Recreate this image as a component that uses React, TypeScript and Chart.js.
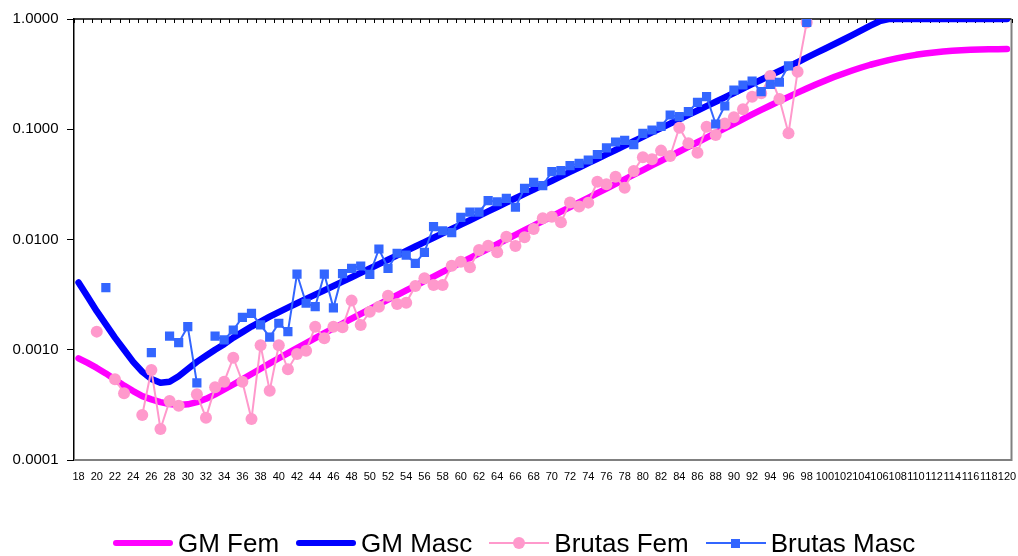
import React, { useEffect, useRef } from 'react';
import { Chart, registerables } from 'chart.js';

Chart.register(...registerables);

const FONT = '"Liberation Sans", Arial, Helvetica, sans-serif';

const ages = [
  18, 19, 20, 21, 22, 23, 24, 25, 26, 27, 28, 29, 30, 31, 32, 33, 34, 35, 36, 37,
  38, 39, 40, 41, 42, 43, 44, 45, 46, 47, 48, 49, 50, 51, 52, 53, 54, 55, 56, 57,
  58, 59, 60, 61, 62, 63, 64, 65, 66, 67, 68, 69, 70, 71, 72, 73, 74, 75, 76, 77,
  78, 79, 80, 81, 82, 83, 84, 85, 86, 87, 88, 89, 90, 91, 92, 93, 94, 95, 96, 97,
  98, 99, 100, 101, 102, 103, 104, 105, 106, 107, 108, 109, 110, 111, 112, 113,
  114, 115, 116, 117, 118, 119, 120,
];

const gmFem = [
  0.000836, 0.000759, 0.000684, 0.00061, 0.000537, 0.000473, 0.000422, 0.00038, 0.000355, 0.000335,
  0.000322, 0.000316, 0.00032, 0.000335, 0.000359, 0.000394, 0.000437, 0.000484, 0.00054, 0.000603,
  0.000673, 0.000752, 0.000838, 0.000931, 0.001035, 0.001148, 0.001274, 0.001413, 0.001563, 0.00173,
  0.001914, 0.002113, 0.002333, 0.002576, 0.002844, 0.003133, 0.003451, 0.003802, 0.004188, 0.004613,
  0.005082, 0.005598, 0.006166, 0.006792, 0.007482, 0.008241, 0.009078, 0.01, 0.011015, 0.012134,
  0.013366, 0.014723, 0.016218, 0.017865, 0.019679, 0.021677, 0.023878, 0.026303, 0.028973, 0.031915,
  0.035156, 0.038726, 0.042658, 0.046989, 0.051761, 0.057016, 0.062806, 0.069183, 0.076208, 0.083946,
  0.09247, 0.10186, 0.1122, 0.12359, 0.13614, 0.14962, 0.16406, 0.17989, 0.19679, 0.21478,
  0.23388, 0.2541, 0.27542, 0.29717, 0.31915, 0.34119, 0.36308, 0.38459, 0.40458, 0.42364,
  0.44157, 0.45814, 0.47315, 0.48641, 0.49774, 0.50699, 0.51404, 0.52, 0.52481, 0.52845,
  0.53088, 0.5321, 0.5333,
];

const gmMasc = [
  0.004074, 0.00302, 0.002239, 0.001698, 0.001288, 0.001, 0.000776, 0.000631, 0.000543, 0.000501,
  0.000513, 0.000575, 0.000668, 0.000776, 0.000881, 0.001, 0.001122, 0.001288, 0.001445, 0.001622,
  0.001799, 0.001995, 0.002198, 0.00241, 0.002642, 0.002891, 0.003162, 0.003459, 0.003784, 0.004147,
  0.004545, 0.004981, 0.005459, 0.005984, 0.006558, 0.007188, 0.007878, 0.008634, 0.009462, 0.01037,
  0.01137, 0.01246, 0.013654, 0.014962, 0.016399, 0.017971, 0.019697, 0.021589, 0.023659, 0.025929,
  0.028417, 0.031145, 0.034135, 0.037411, 0.041003, 0.044939, 0.049249, 0.053976, 0.059156, 0.064835,
  0.071055, 0.07788, 0.085351, 0.093541, 0.10252, 0.11236, 0.12313, 0.13497, 0.14791, 0.16211,
  0.17766, 0.19472, 0.21339, 0.23388, 0.25633, 0.28091, 0.30788, 0.33729, 0.36983, 0.40551,
  0.44566, 0.48978, 0.53703, 0.5902, 0.64863, 0.7145, 0.78886, 0.87096, 0.95499, 1,
  1, 1, 1, 1, 1, 1, 1, 1, 1, 1,
  1, 1, 1,
];

const brutasFem = [
  null, null, 0.00146, null, 0.00054, 0.000403, null, 0.000256, 0.000655, 0.000191,
  0.000343, 0.000311, null, 0.000394, 0.000242, 0.000456, 0.000513, 0.000847, 0.000513, 0.000235,
  0.0011, 0.000425, 0.0011, 0.000665, 0.000915, 0.00098, 0.00162, 0.00127, 0.00162, 0.0016,
  0.00279, 0.00168, 0.00221, 0.00246, 0.00309, 0.0026, 0.00267, 0.00379, 0.00445, 0.00387,
  0.00387, 0.00578, 0.00629, 0.0056, 0.00803, 0.00879, 0.00765, 0.0106, 0.00873, 0.0105,
  0.01245, 0.01556, 0.0161, 0.0143, 0.0217, 0.0199, 0.0216, 0.0334, 0.0317, 0.0371,
  0.0295, 0.0418, 0.0557, 0.0534, 0.064, 0.0572, 0.1033, 0.0746, 0.0613, 0.1055,
  0.0887, 0.113, 0.1283, 0.152, 0.1973, 0.212, 0.304, 0.188, 0.0919, 0.333,
  0.93,
];

const brutasMasc = [
  null, null, null, 0.00366, null, null, null, null, 0.00094, null,
  0.00133, 0.00116, 0.00162, 0.0005, null, 0.00133, 0.00123, 0.00151, 0.00197, 0.00214,
  0.00168, 0.0013, 0.00174, 0.00146, 0.00486, 0.00264, 0.00246, 0.00486, 0.0024, 0.0049,
  0.00548, 0.00575, 0.00483, 0.0082, 0.00548, 0.0075, 0.00723, 0.00608, 0.00765, 0.01306,
  0.012, 0.01153, 0.0159, 0.0177, 0.0177, 0.0225, 0.022, 0.0236, 0.0196, 0.0291,
  0.033, 0.0308, 0.0412, 0.0421, 0.0467, 0.0491, 0.0526, 0.059, 0.0679, 0.0766,
  0.0793, 0.0725, 0.0919, 0.0984, 0.106, 0.1346, 0.13, 0.1443, 0.1755, 0.1973,
  0.1116, 0.1625, 0.226, 0.252, 0.274, 0.219, 0.255, 0.267, 0.376, null,
  0.933,
];

const yTicks = [0.0001, 0.001, 0.01, 0.1, 1];

const seriesNames = ['GM Fem', 'GM Masc', 'Brutas Fem', 'Brutas Masc'];
const seriesColors = ['#FF00FF', '#0000FF', '#FF99CC', '#3366FF'];

const framePlugin = {
  id: 'frame',
  beforeDatasetsDraw(chart: any) {
    const { ctx, chartArea: a, scales } = chart;
    const x = scales.x;
    ctx.save();
    ctx.strokeStyle = '#808080';
    ctx.lineWidth = 2;
    ctx.beginPath();
    ctx.moveTo(a.left, a.bottom);
    ctx.lineTo(a.right, a.bottom);
    ctx.lineTo(a.right, a.top);
    ctx.stroke();
    ctx.strokeStyle = '#000';
    ctx.lineWidth = 1.5;
    ctx.beginPath();
    ctx.moveTo(a.left, a.top);
    ctx.lineTo(a.right, a.top);
    ctx.stroke();
    const w = x.getPixelForValue(1) - x.getPixelForValue(0);
    ctx.lineWidth = 1;
    ctx.beginPath();
    for (let i = 0; i <= ages.length; i++) {
      const px = Math.round(x.getPixelForValue(i) - w / 2) + 0.5;
      ctx.moveTo(px, a.top);
      ctx.lineTo(px, a.top + 4);
    }
    ctx.stroke();
    ctx.restore();
  },
};

function Sample({ idx }: { idx: number }) {
  const color = seriesColors[idx];
  const thick = idx < 2;
  return (
    <div style={{ position: 'relative', width: 60, height: 20, flex: '0 0 auto' }}>
      <div
        style={{
          position: 'absolute',
          left: 0,
          right: 0,
          top: thick ? 6.75 : 9,
          height: thick ? 6.5 : 2,
          background: color,
          borderRadius: thick ? 3.25 : 0,
        }}
      />
      {idx === 2 && (
        <div
          style={{
            position: 'absolute',
            left: 24,
            top: 4,
            width: 12,
            height: 12,
            borderRadius: 6,
            background: color,
          }}
        />
      )}
      {idx === 3 && (
        <div
          style={{
            position: 'absolute',
            left: 25.5,
            top: 5.5,
            width: 9,
            height: 9,
            background: color,
          }}
        />
      )}
    </div>
  );
}

export default function App() {
  const ref = useRef<HTMLCanvasElement | null>(null);

  useEffect(() => {
    if (!ref.current) return;
    const chart = new Chart(ref.current, {
      type: 'line',
      data: {
        labels: ages.map(String),
        datasets: [
          {
            label: seriesNames[0],
            data: gmFem,
            borderColor: seriesColors[0],
            backgroundColor: seriesColors[0],
            borderWidth: 6.5,
            pointRadius: 0,
            borderCapStyle: 'round',
            borderJoinStyle: 'round',
            order: 4,
          },
          {
            label: seriesNames[1],
            data: gmMasc,
            borderColor: seriesColors[1],
            backgroundColor: seriesColors[1],
            borderWidth: 6.5,
            pointRadius: 0,
            borderCapStyle: 'round',
            borderJoinStyle: 'round',
            order: 3,
          },
          {
            label: seriesNames[2],
            data: brutasFem,
            borderColor: seriesColors[2],
            backgroundColor: seriesColors[2],
            borderWidth: 2,
            pointStyle: 'circle',
            pointRadius: 6,
            pointBorderWidth: 0,
            pointBackgroundColor: seriesColors[2],
            order: 2,
          },
          {
            label: seriesNames[3],
            data: brutasMasc,
            borderColor: seriesColors[3],
            backgroundColor: seriesColors[3],
            borderWidth: 2,
            pointStyle: 'rect',
            pointRadius: 6.5,
            pointBorderWidth: 0,
            pointBackgroundColor: seriesColors[3],
            order: 1,
          },
        ],
      },
      options: {
        animation: false,
        responsive: false,
        devicePixelRatio: 1,
        layout: { padding: { top: 19, right: 5, left: 0, bottom: 0 } },
        plugins: {
          legend: { display: false },
          tooltip: { enabled: false },
        },
        scales: {
          x: {
            type: 'category',
            offset: true,
            grid: { display: false, drawTicks: false },
            border: { display: false },
            ticks: {
              autoSkip: false,
              maxRotation: 0,
              minRotation: 0,
              padding: 10,
              color: '#000',
              font: { family: FONT, size: 11 },
              callback: (_v: any, i: number) => (i % 2 === 0 ? String(ages[i]) : ''),
            },
            afterFit: (s: any) => {
              s.height = 96;
              s.paddingLeft = 0;
              s.paddingRight = 0;
            },
          },
          y: {
            type: 'logarithmic',
            min: 0.0001,
            max: 1,
            border: { display: true, color: '#000', width: 1.5 },
            grid: {
              display: true,
              drawOnChartArea: false,
              drawTicks: true,
              tickLength: 7,
              color: '#000',
              lineWidth: 1,
            },
            ticks: {
              color: '#000',
              font: { family: FONT, size: 15 },
              padding: 8.5,
              callback: (v: any) => Number(v).toFixed(4),
            },
            afterBuildTicks: (s: any) => {
              s.ticks = yTicks.map((v) => ({ value: v }));
            },
            afterFit: (s: any) => {
              s.width = 74;
              s.paddingTop = 0;
              s.paddingBottom = 0;
            },
          },
        },
      } as any,
      plugins: [framePlugin],
    });
    return () => chart.destroy();
  }, []);

  return (
    <div style={{ position: 'absolute', left: 0, top: 0, width: 1018, height: 556, background: '#fff' }}>
      <canvas ref={ref} width={1018} height={556} style={{ display: 'block' }} />
      <div
        style={{
          position: 'absolute',
          left: 113,
          top: 528,
          height: 30,
          display: 'flex',
          alignItems: 'center',
          fontFamily: FONT,
          fontSize: 26,
          color: '#000',
          whiteSpace: 'nowrap',
        }}
      >
        {seriesNames.map((name, i) => (
          <div key={name} style={{ display: 'flex', alignItems: 'center', marginRight: 17 }}>
            <Sample idx={i} />
            <span style={{ marginLeft: 5, lineHeight: '30px' }}>{name}</span>
          </div>
        ))}
      </div>
    </div>
  );
}
